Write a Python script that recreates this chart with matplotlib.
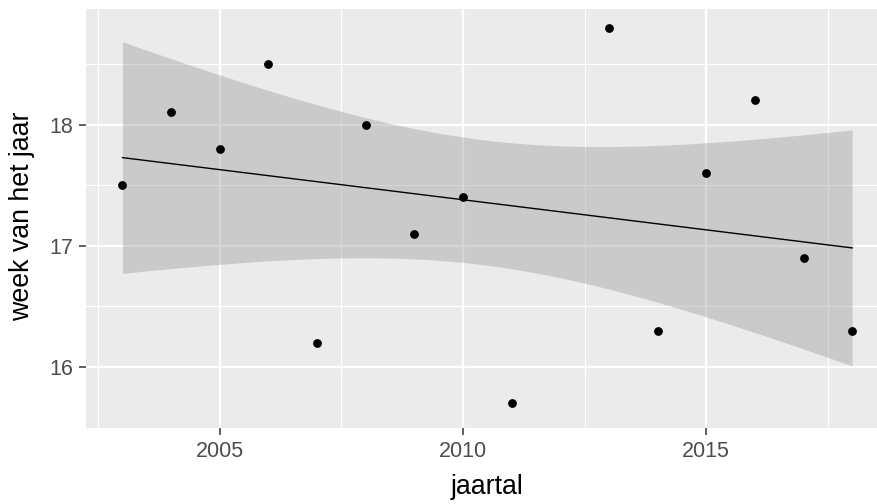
import matplotlib.pyplot as plt
import numpy as np

plt.rcParams['font.family'] = ['Liberation Sans', 'DejaVu Sans']

# week in which the event happened, per year (2012 missing)
jaartal = [2003, 2004, 2005, 2006, 2007, 2008, 2009, 2010, 2011,
           2013, 2014, 2015, 2016, 2017, 2018]
week = [17.5, 18.1, 17.8, 18.5, 16.2, 18.0, 17.1, 17.4, 15.7,
        18.8, 16.3, 17.6, 18.2, 16.9, 16.3]
x_ticks = [2005, 2010, 2015]
y_ticks = [16, 17, 18]

x = np.array(jaartal, dtype=float)
y = np.array(week)

# lm fit + 95% confidence band (like geom_smooth(method='lm'))
n = len(x)
b, a = np.polyfit(x, y, 1)
xs = np.linspace(x.min(), x.max(), 80)
ys = a + b * xs
resid = y - (a + b * x)
s = np.sqrt(np.sum(resid ** 2) / (n - 2))
sxx = np.sum((x - x.mean()) ** 2)
t_crit = 2.160  # t(0.975, df=13)
se = s * np.sqrt(1 / n + (xs - x.mean()) ** 2 / sxx)

fig = plt.figure(figsize=(8.77, 5.04), dpi=100)
ax = fig.add_axes([86 / 877, 1 - 427.7 / 504, 791 / 877, 418.7 / 504])
ax.set_facecolor('#EBEBEB')
for sp in ax.spines.values():
    sp.set_visible(False)

ax.set_xlim(2002.25, 2018.51)
ax.set_ylim(15.544, 18.953)
ax.set_xticks(x_ticks)
ax.set_yticks(y_ticks)
ax.set_xticks([2002.5, 2007.5, 2012.5, 2017.5], minor=True)
ax.set_yticks([15.5, 16.5, 17.5, 18.5], minor=True)
ax.grid(which='major', color='white', linewidth=1.6)
ax.grid(which='minor', color='white', linewidth=0.8)
ax.set_axisbelow(True)
ax.tick_params(which='major', length=4.8, width=1.1, color='#333333',
               labelsize=15.5, labelcolor='#4D4D4D', pad=4.5)
ax.tick_params(which='minor', length=0)

ax.fill_between(xs, ys - t_crit * se, ys + t_crit * se,
                color='#999999', alpha=0.4, linewidth=0, zorder=2)
ax.plot(xs, ys, color='black', linewidth=1.0, zorder=3)
ax.scatter(x, y, s=40, color='black', zorder=4, linewidths=0)

fig.text(487 / 877, 1 - 487 / 504, 'jaartal', ha='center', va='center',
         fontsize=19.3)
fig.text(22 / 877, 1 - 216 / 504, 'week van het jaar', ha='center',
         va='center', rotation=90, fontsize=19.3)

fig.savefig('out.png', dpi=100)
